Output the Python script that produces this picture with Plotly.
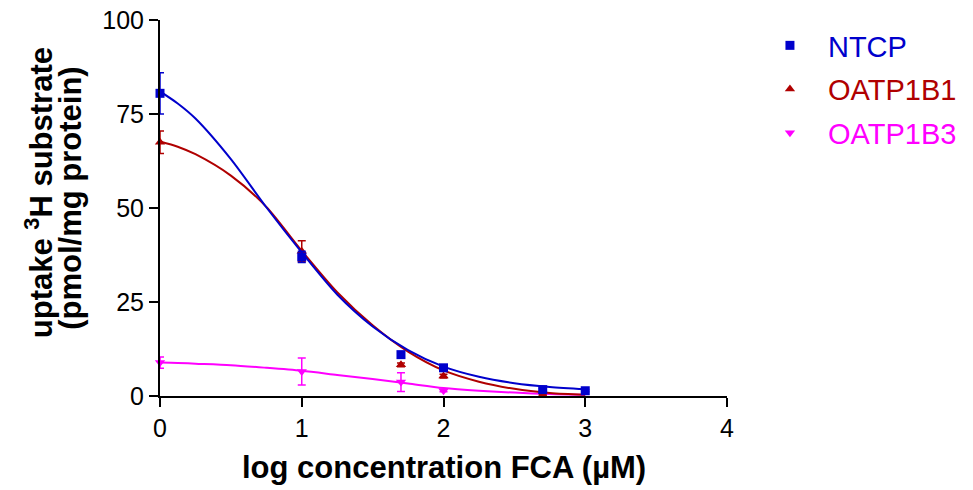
import plotly.graph_objects as go

# ---- data ----
x_points = [0, 1, 1.7, 2, 2.7, 3]

ntcp_y = [80.5, 37, 11, 7.5, 1.7, 1.4]
ntcp_err = [5.5, 1.5, 0.8, 0.8, 0.3, 0.3]

oatp1b1_x = [0, 1, 1.7, 2, 2.7]
oatp1b1_y = [67.5, 38.5, 8.3, 5.3, 0.3]
oatp1b1_err = [3.0, 2.8, 0.5, 0.5, 0.2]

oatp1b3_x = [0, 1, 1.7, 2]
oatp1b3_y = [8.9, 6.5, 3.7, 1.4]
oatp1b3_err = [1.5, 3.6, 2.5, 0.3]

# fitted curves
curve_x = [0, 0.125, 0.25, 0.5, 0.75, 1, 1.25, 1.5, 1.75, 2, 2.25, 2.5, 2.75, 3]
ntcp_fit = [81, 77.8, 73.8, 63.0, 50.2, 38.2, 27, 18.5, 12.2, 7.8, 5.1, 3.4, 2.4, 1.8]
oatp1b1_fit = [67.7, 66.3, 64.3, 58.6, 50.3, 38.6, 27.6, 18.8, 11.8, 6.8, 3.8, 1.9, 0.8, 0.3]
oatp1b3_fit = [8.9, 8.8, 8.6, 8.2, 7.5, 6.7, 5.6, 4.5, 3.3, 2.1, 1.4, 0.9, 0.5, 0.3]

x_ticks = [0, 1, 2, 3, 4]
y_ticks = [0, 25, 50, 75, 100]

C_NTCP = "#0000CC"
C_1B1 = "#B00000"
C_1B3 = "#FF00FF"
FONT = "Liberation Sans, Arial, sans-serif"

fig = go.Figure()

def add_series(name, color, symbol, px, py, perr, fx, fy, rank):
    fig.add_trace(go.Scatter(
        x=fx, y=fy, mode="lines",
        line=dict(color=color, width=2, shape="spline", smoothing=0.8),
        showlegend=False, hoverinfo="skip"))
    fig.add_trace(go.Scatter(
        x=px, y=py, mode="markers",
        marker=dict(color=color, symbol=symbol, size=9),
        error_y=dict(type="data", array=perr, visible=True, color=color, thickness=1.5, width=4),
        name=f"<span style='color:{color}'>{name}</span>",
        legendgroup=name, legendrank=rank, cliponaxis=False))

add_series("OATP1B3", C_1B3, "triangle-down", oatp1b3_x, oatp1b3_y, oatp1b3_err, curve_x, oatp1b3_fit, 3)
add_series("OATP1B1", C_1B1, "triangle-up", oatp1b1_x, oatp1b1_y, oatp1b1_err, curve_x, oatp1b1_fit, 2)
add_series("NTCP", C_NTCP, "square", x_points, ntcp_y, ntcp_err, curve_x, ntcp_fit, 1)

axis_common = dict(showgrid=False, zeroline=False, showline=True, linecolor="black", linewidth=2,
                   ticks="outside", ticklen=9, tickwidth=2, tickcolor="black", automargin=False,
                   ticklabeloverflow="allow",
                   tickfont=dict(family=FONT, size=25, color="black"))

fig.update_xaxes(range=[0, 4], tickvals=x_ticks, **axis_common)
fig.update_yaxes(range=[0, 100], tickvals=y_ticks, **axis_common)

title_font = dict(family=FONT, size=31, color="black")
fig.add_annotation(text="<b>log concentration FCA (µM)</b>", xref="paper", yref="paper",
                   x=0.5, y=-0.189, xanchor="center", yanchor="middle", showarrow=False,
                   font=title_font)
fig.add_annotation(text="<b>uptake <sup>3</sup>H substrate</b>", xref="paper", yref="paper",
                   x=-0.213, y=0.54, xanchor="center", yanchor="middle", textangle=-90, showarrow=False,
                   font=title_font)
fig.add_annotation(text="<b>(pmol/mg protein)</b>", xref="paper", yref="paper",
                   x=-0.157, y=0.527, xanchor="center", yanchor="middle", textangle=-90, showarrow=False,
                   font=title_font)

fig.update_layout(
    width=973, height=490,
    margin=dict(l=160, r=246, t=20, b=94, autoexpand=False),
    plot_bgcolor="white", paper_bgcolor="white",
    legend=dict(x=1.044, y=1.0, xanchor="left", yanchor="top", traceorder="grouped",
                tracegroupgap=3, itemwidth=66,
                font=dict(family=FONT, size=29)),
)

fig.write_html("out.html", config={"displayModeBar": False},
               post_script="document.body.style.margin='0';")
